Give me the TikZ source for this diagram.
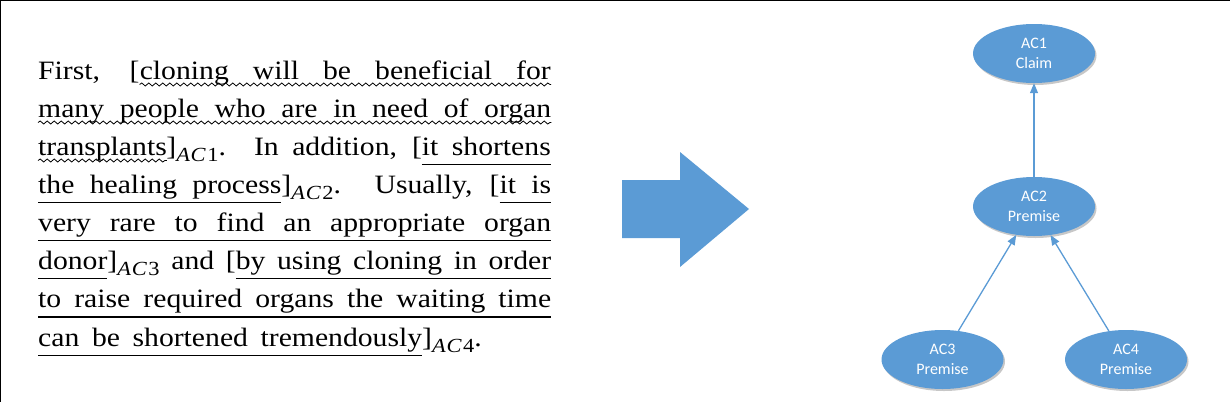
\documentclass[tikz,border=0pt]{standalone}
\usepackage{fontspec}
\setmainfont{Liberation Serif}[FakeStretch=1.12]
\newfontfamily\calib{Carlito}
\usetikzlibrary{arrows.meta,shadows,shapes.geometric,decorations.pathmorphing}
\definecolor{officeblue}{HTML}{5B9BD5}
\newcommand\ulrule{\vrule height -8.8pt depth 10pt}
\newcommand\spglue{\hskip\fontdimen2\font plus \fontdimen3\font minus \fontdimen4\font\relax}
% underlined word / underlined space
\newcommand\uw[1]{\setbox0\hbox{#1}\rlap{\ulrule width \wd0}\box0}
\newcommand\us{\leaders\ulrule\spglue}
\newcommand\acsub[1]{\raisebox{-6.5pt}{\fontsize{20}{20}\selectfont\textit{A\kern0.8pt C}\kern1.5pt #1}}
\newcommand\txtfont{\fontsize{26.5}{38}\selectfont}
\newdimen\trw
\tikzset{
  txtline/.style={inner sep=0pt, font=\txtfont},
  wave/.style={draw=black, line width=0.8pt, decorate,
    decoration={snake, amplitude=1.5pt, segment length=7pt}},
  acnode/.style={ellipse, fill=officeblue, minimum width=122pt, minimum height=59pt, inner sep=0pt,
    text=white, align=center, font=\calib\fontsize{16}{20}\selectfont,
    drop shadow={shadow xshift=1.5pt, shadow yshift=-2pt, fill=black, opacity=0.22}},
  link/.style={draw=officeblue, line width=1.3pt, -{Triangle[length=10pt,width=8pt]}}
}
\begin{document}
\begin{tikzpicture}[x=1pt,y=-1pt]
\useasboundingbox (0,0) rectangle (1230,402);
\draw[line width=2.5pt] (0,402) -- (0,0) -- (1230,0);
% line 1
\node[txtline, anchor=base west] (l1a) at (38,79) {First,};
\node[txtline, anchor=base east] (l1r) at (551,79) {\makebox[411pt][s]{cloning will be beneficial for}};
\node[txtline, anchor=base east] (l1b) at (l1r.base west) {[};
% line 2
\node[txtline, anchor=base west] (l2) at (38,117) {\makebox[513pt][s]{many people who are in need of organ}};
% line 3
\node[txtline, anchor=base west] (l3a) at (38,155) {\setbox0\hbox{transplants}\global\trw=\wd0\box0};
\node[txtline, anchor=base east] (l3r) at (551,155) {\makebox[\dimexpr513pt-\trw\relax][s]{]\acsub{1}. In addition, [\uw{it}\us\uw{shortens}}};
% line 4-7
\node[txtline, anchor=base west] (l4) at (38,193) {\makebox[513pt][s]{\uw{the}\us\uw{healing}\us\uw{process}]\acsub{2}. Usually, [\uw{it}\us\uw{is}}};
\node[txtline, anchor=base west] (l5) at (38,231) {\makebox[513pt][s]{\uw{very}\us\uw{rare}\us\uw{to}\us\uw{find}\us\uw{an}\us\uw{appropriate}\us\uw{organ}}};
\node[txtline, anchor=base west] (l6) at (38,269) {\makebox[513pt][s]{\uw{donor}]\acsub{3} and [\uw{by}\us\uw{using}\us\uw{cloning}\us\uw{in}\us\uw{order}}};
\node[txtline, anchor=base west] (l7) at (38,307.5) {\makebox[513pt][s]{\uw{to}\us\uw{raise}\us\uw{required}\us\uw{organs}\us\uw{the}\us\uw{waiting}\us\uw{time}}};
% line 8
\node[txtline, anchor=base west] (l8) at (38,346) {\makebox[384pt][s]{\uw{can}\us\uw{be}\us\uw{shortened}\us\uw{tremendously}}]\acsub{4}.};
% wavy underlines (claim)
\draw[wave] ([yshift=-5.5pt]l1r.base west) -- ([yshift=-5.5pt]l1r.base east);
\draw[wave] ([yshift=-5.5pt]l2.base west) -- ([yshift=-5.5pt]l2.base east);
\draw[wave] ([yshift=-5.5pt]l3a.base west) -- ([yshift=-5.5pt]l3a.base east);
% block arrow
\fill[officeblue] (622,180) -- (680,180) -- (680,152) -- (749,209) -- (680,267) -- (680,238) -- (622,238) -- cycle;
% graph
\node[acnode] (ac1) at (1034,53.5) {AC1\\Claim};
\node[acnode] (ac2) at (1034,206.5) {AC2\\Premise};
\node[acnode] (ac3) at (942.5,359.5) {AC3\\Premise};
\node[acnode] (ac4) at (1126,359.5) {AC4\\Premise};
\draw[link] (ac2.north) -- (ac1.south);
\draw[link] (ac3.61) -- (ac2.238);
\draw[link] (ac4.121) -- (ac2.300);
\end{tikzpicture}
\end{document}
